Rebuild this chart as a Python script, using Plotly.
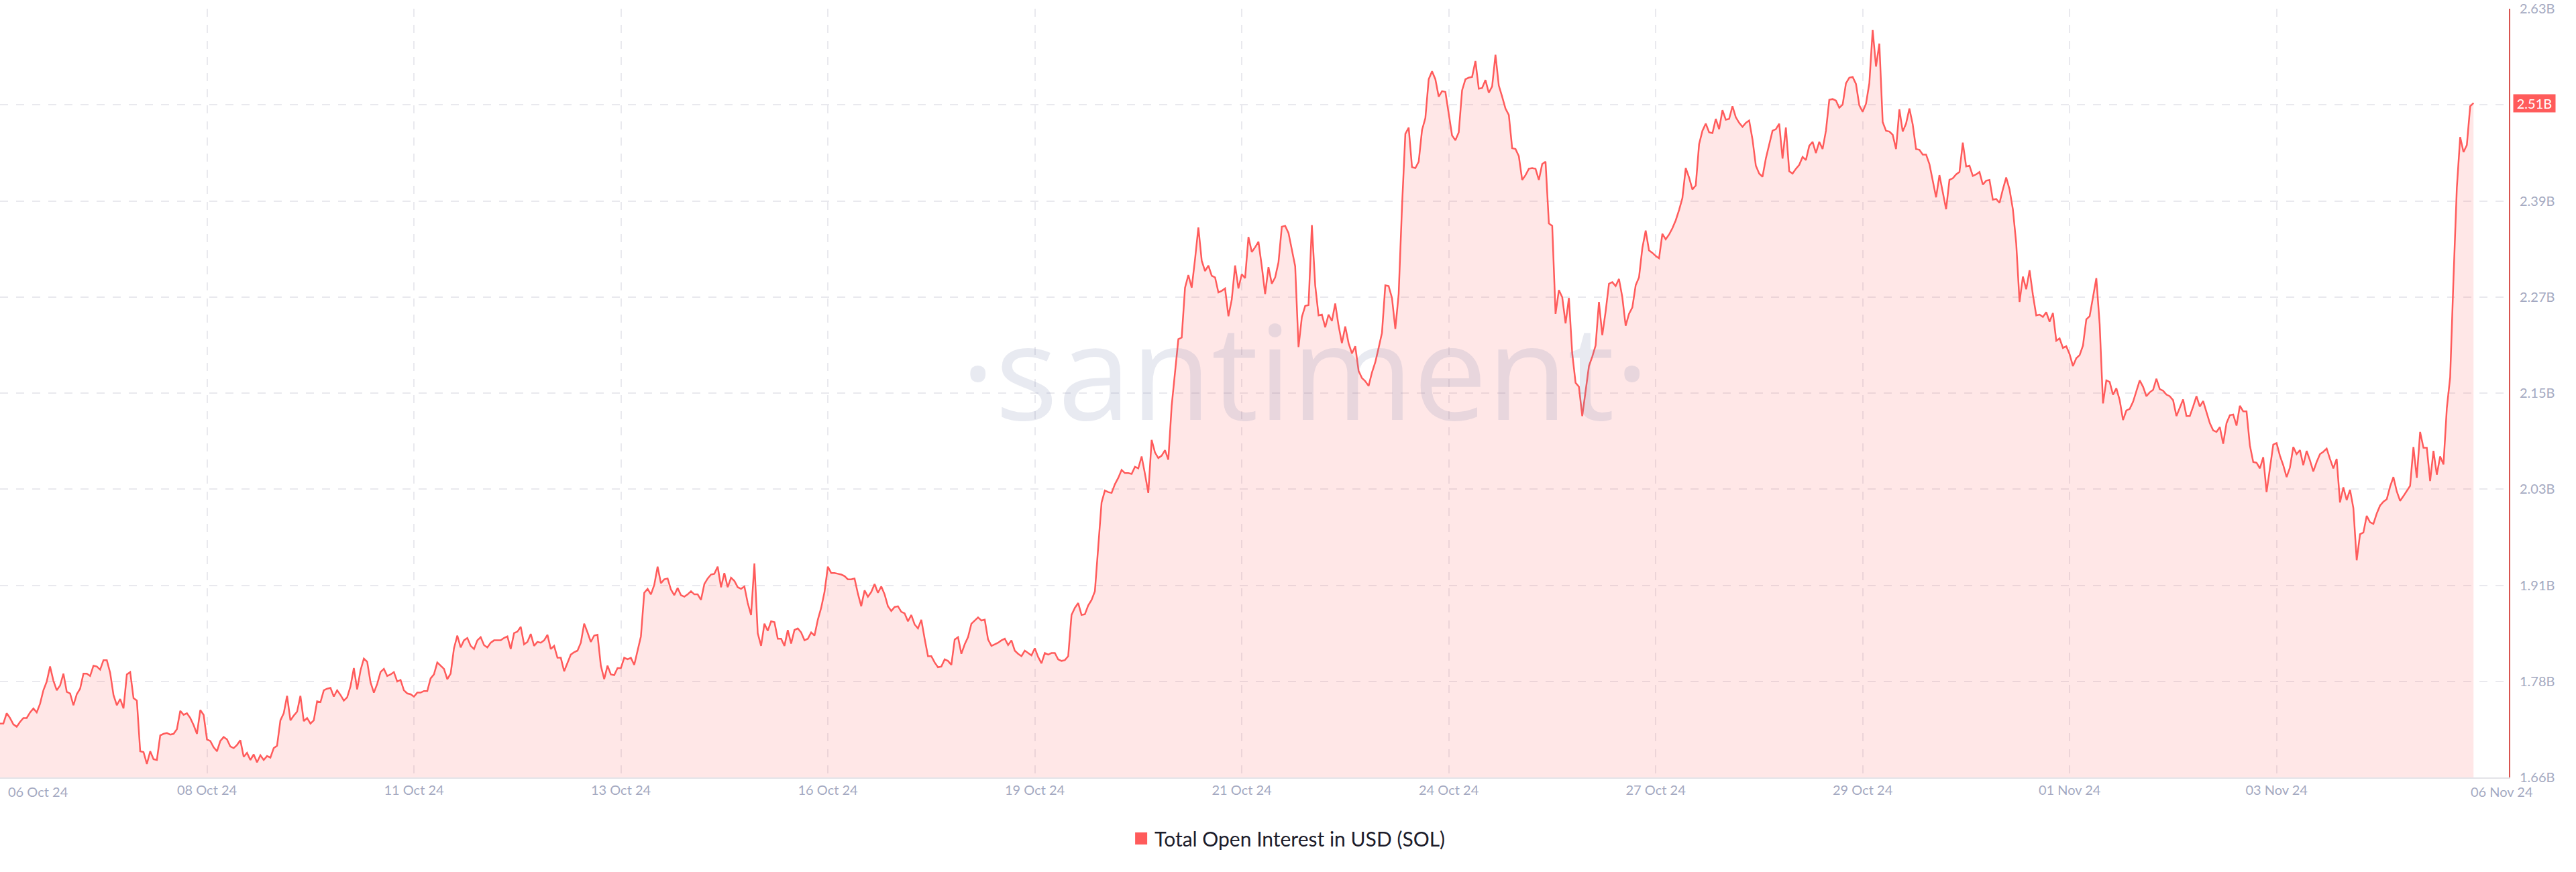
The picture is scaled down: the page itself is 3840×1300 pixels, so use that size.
import pandas as pd
import plotly.graph_objects as go

# ---------------- data (values in billions of USD, hourly) ----------------
start_time = "2024-10-06 02:00"

oi_oct06_oct11 = [
    1.728, 1.728, 1.741, 1.735, 1.727, 1.724, 1.730, 1.735, 1.735, 1.742,
    1.747, 1.742, 1.753, 1.770, 1.781, 1.800, 1.782, 1.770, 1.776, 1.791,
    1.768, 1.766, 1.751, 1.765, 1.772, 1.791, 1.791, 1.788, 1.801, 1.800,
    1.796, 1.808, 1.808, 1.792, 1.764, 1.751, 1.759, 1.747, 1.790, 1.793,
    1.760, 1.757, 1.693, 1.692, 1.677, 1.693, 1.683, 1.682, 1.713, 1.715,
    1.716, 1.714, 1.715, 1.721, 1.744, 1.739, 1.741, 1.735, 1.726, 1.715,
    1.745, 1.739, 1.708, 1.706, 1.698, 1.693, 1.706, 1.711, 1.708, 1.699,
    1.697, 1.701, 1.707, 1.686, 1.691, 1.682, 1.689, 1.679, 1.688, 1.682,
    1.687, 1.685, 1.697, 1.700, 1.732, 1.741, 1.763, 1.732, 1.738, 1.743,
    1.763, 1.731, 1.735, 1.728, 1.732, 1.756, 1.755, 1.770, 1.772, 1.773,
    1.762, 1.770, 1.764, 1.757, 1.761, 1.775, 1.798, 1.771, 1.795, 1.810,
    1.806, 1.780, 1.767, 1.778, 1.793, 1.797, 1.788, 1.790, 1.793, 1.781,
    1.783, 1.770, 1.766, 1.765, 1.762, 1.767, 1.767, 1.769, 1.769, 1.785,
]

oi_oct11_oct16 = [
    1.790, 1.805, 1.801, 1.797, 1.784, 1.791, 1.823, 1.839, 1.824, 1.833,
    1.836, 1.826, 1.822, 1.833, 1.837, 1.827, 1.824, 1.830, 1.833, 1.833,
    1.833, 1.836, 1.838, 1.822, 1.842, 1.844, 1.850, 1.828, 1.831, 1.841,
    1.826, 1.831, 1.830, 1.833, 1.840, 1.822, 1.826, 1.811, 1.811, 1.794,
    1.805, 1.815, 1.818, 1.820, 1.830, 1.854, 1.843, 1.831, 1.839, 1.840,
    1.801, 1.784, 1.801, 1.790, 1.789, 1.798, 1.798, 1.811, 1.809, 1.811,
    1.802, 1.821, 1.838, 1.893, 1.898, 1.891, 1.903, 1.926, 1.905, 1.910,
    1.911, 1.897, 1.890, 1.899, 1.890, 1.888, 1.891, 1.895, 1.891, 1.891,
    1.884, 1.904, 1.911, 1.916, 1.917, 1.926, 1.900, 1.918, 1.900, 1.912,
    1.908, 1.900, 1.898, 1.901, 1.880, 1.865, 1.930, 1.842, 1.826, 1.854,
    1.845, 1.857, 1.856, 1.835, 1.835, 1.826, 1.846, 1.829, 1.846, 1.848,
    1.843, 1.833, 1.835, 1.843, 1.839, 1.859, 1.874, 1.894, 1.926, 1.918,
    1.918, 1.917, 1.916, 1.914,
]

oi_oct16_oct21 = [
    1.910, 1.910, 1.911, 1.892, 1.876, 1.896, 1.888, 1.894, 1.904, 1.893,
    1.901, 1.891, 1.876, 1.870, 1.875, 1.876, 1.869, 1.867, 1.857, 1.865,
    1.853, 1.848, 1.859, 1.835, 1.813, 1.813, 1.805, 1.799, 1.800, 1.809,
    1.807, 1.802, 1.834, 1.837, 1.816, 1.828, 1.837, 1.854, 1.858, 1.862,
    1.858, 1.859, 1.834, 1.826, 1.828, 1.830, 1.833, 1.835, 1.827, 1.833,
    1.820, 1.816, 1.813, 1.820, 1.817, 1.814, 1.823, 1.812, 1.804, 1.817,
    1.815, 1.817, 1.817, 1.809, 1.807, 1.808, 1.813, 1.865, 1.874, 1.880,
    1.865, 1.866, 1.877, 1.884, 1.895, 1.953, 2.007, 2.022, 2.020, 2.019,
    2.030, 2.038, 2.048, 2.044, 2.044, 2.043, 2.052, 2.050, 2.065, 2.043,
    2.019, 2.086, 2.070, 2.063, 2.066, 2.073, 2.061, 2.129, 2.174, 2.213,
    2.215, 2.278, 2.294, 2.278, 2.314, 2.354, 2.312, 2.299, 2.306, 2.293,
    2.291, 2.272, 2.274, 2.277, 2.242, 2.263, 2.306, 2.277, 2.295, 2.290,
    2.342, 2.323, 2.329, 2.336,
]

oi_oct21_oct27 = [
    2.305, 2.270, 2.304, 2.283, 2.291, 2.310, 2.355, 2.356, 2.347, 2.327,
    2.305, 2.203, 2.241, 2.255, 2.256, 2.357, 2.281, 2.243, 2.244, 2.228,
    2.244, 2.236, 2.258, 2.230, 2.208, 2.229, 2.208, 2.195, 2.204, 2.173,
    2.164, 2.160, 2.154, 2.171, 2.184, 2.202, 2.221, 2.281, 2.280, 2.265,
    2.226, 2.270, 2.380, 2.472, 2.480, 2.430, 2.429, 2.437, 2.477, 2.492,
    2.541, 2.551, 2.541, 2.519, 2.526, 2.525, 2.497, 2.470, 2.464, 2.474,
    2.527, 2.541, 2.543, 2.544, 2.564, 2.529, 2.530, 2.540, 2.524, 2.532,
    2.572, 2.533, 2.519, 2.504, 2.496, 2.454, 2.453, 2.444, 2.414, 2.420,
    2.428, 2.429, 2.428, 2.414, 2.434, 2.437, 2.359, 2.356, 2.245, 2.275,
    2.266, 2.233, 2.265, 2.195, 2.158, 2.153, 2.116, 2.149, 2.179, 2.191,
    2.205, 2.260, 2.218, 2.248, 2.283, 2.285, 2.280, 2.289, 2.266, 2.230,
    2.245, 2.253, 2.281, 2.291, 2.328, 2.350, 2.325, 2.322, 2.318, 2.315,
    2.346, 2.339, 2.345, 2.353, 2.363,
]

oi_oct27_nov01 = [
    2.376, 2.391, 2.429, 2.417, 2.402, 2.407, 2.459, 2.476, 2.485, 2.474,
    2.473, 2.491, 2.478, 2.502, 2.490, 2.491, 2.507, 2.493, 2.486, 2.481,
    2.486, 2.489, 2.465, 2.432, 2.422, 2.418, 2.441, 2.459, 2.476, 2.478,
    2.485, 2.441, 2.480, 2.425, 2.422, 2.428, 2.433, 2.443, 2.439, 2.457,
    2.462, 2.448, 2.462, 2.453, 2.476, 2.515, 2.516, 2.514, 2.505, 2.509,
    2.536, 2.543, 2.544, 2.535, 2.508, 2.500, 2.510, 2.536, 2.603, 2.557,
    2.586, 2.487, 2.476, 2.475, 2.471, 2.453, 2.503, 2.475, 2.485, 2.504,
    2.484, 2.453, 2.452, 2.446, 2.446, 2.434, 2.414, 2.392, 2.420, 2.399,
    2.377, 2.414, 2.416, 2.421, 2.424, 2.461, 2.431, 2.432, 2.419, 2.421,
    2.424, 2.408, 2.413, 2.414, 2.389, 2.390, 2.385, 2.402, 2.417, 2.402,
    2.377, 2.334, 2.260, 2.292, 2.276, 2.300, 2.269, 2.243, 2.244, 2.241,
    2.247, 2.235, 2.246, 2.211, 2.214, 2.202, 2.204, 2.194, 2.179, 2.189,
    2.193, 2.205, 2.238, 2.242,
]

oi_nov01_nov06 = [
    2.267, 2.290, 2.232, 2.132, 2.161, 2.159, 2.143, 2.151, 2.136, 2.111,
    2.123, 2.125, 2.134, 2.147, 2.161, 2.153, 2.141, 2.146, 2.149, 2.163,
    2.150, 2.148, 2.143, 2.141, 2.136, 2.116, 2.126, 2.137, 2.116, 2.116,
    2.128, 2.141, 2.128, 2.135, 2.121, 2.107, 2.098, 2.096, 2.102, 2.081,
    2.107, 2.117, 2.118, 2.104, 2.129, 2.122, 2.122, 2.079, 2.058, 2.057,
    2.050, 2.064, 2.020, 2.050, 2.080, 2.082, 2.066, 2.054, 2.039, 2.051,
    2.077, 2.068, 2.073, 2.054, 2.072, 2.060, 2.046, 2.058, 2.068, 2.071,
    2.075, 2.062, 2.050, 2.062, 2.007, 2.026, 2.010, 2.023, 2.000, 1.934,
    1.967, 1.969, 1.990, 1.982, 1.980, 1.993, 2.003, 2.008, 2.011, 2.027,
    2.039, 2.021, 2.009, 2.015, 2.021, 2.028, 2.077, 2.038, 2.096, 2.076,
    2.076, 2.034, 2.072, 2.042, 2.065, 2.055, 2.126, 2.165, 2.290, 2.404,
    2.468, 2.449, 2.458, 2.507, 2.511,
]

x_tick_labels = [
    "06 Oct 24", "08 Oct 24", "11 Oct 24", "13 Oct 24", "16 Oct 24",
    "19 Oct 24", "21 Oct 24", "24 Oct 24", "27 Oct 24", "29 Oct 24",
    "01 Nov 24", "03 Nov 24", "06 Nov 24",
]
y_tick_labels = ["1.66B", "1.78B", "1.91B", "2.03B", "2.15B",
                 "2.27B", "2.39B", "2.51B", "2.63B"]
y_min, y_max = 1.66, 2.63

series_name = "Total Open Interest in USD (SOL)"
watermark = "\u00b7santiment\u00b7"

# ---------------- build ----------------
open_interest = (oi_oct06_oct11 + oi_oct11_oct16 + oi_oct16_oct21 +
                 oi_oct21_oct27 + oi_oct27_nov01 + oi_nov01_nov06)
timestamps = pd.date_range(start_time, periods=len(open_interest), freq="h")

t0 = timestamps[0]
tick_step_h = 62
x_ticks = [t0 + pd.Timedelta(hours=tick_step_h * k) for k in range(len(x_tick_labels))]
x_end = t0 + pd.Timedelta(hours=751.6)
last_label_x = t0 + pd.Timedelta(hours=749.4)

n_y = len(y_tick_labels)
y_tick_values = [y_min + (y_max - y_min) * k / (n_y - 1) for k in range(n_y)]

LINE = "#ff5b5b"
AXIS_RED = "#d9534f"
TICK_COLOR = "#a4a9c1"
GRID = "#e9e9ee"
FONT = "Lato"

fig = go.Figure()
fig.add_trace(go.Scatter(
    x=timestamps, y=open_interest, mode="lines",
    line=dict(color=LINE, width=2.5),
    fill="tozeroy", fillcolor="rgba(255,91,91,0.15)",
    showlegend=False, hoverinfo="skip",
))
fig.add_trace(go.Scatter(
    x=[None], y=[None], mode="markers", name=series_name,
    marker=dict(symbol="square", size=16, color=LINE, line=dict(color=LINE, width=2)),
))

tick_font = dict(family=FONT, size=20, color=TICK_COLOR)

fig.update_layout(
    width=3840, height=1300,
    margin=dict(l=0, r=100, t=13, b=141),
    paper_bgcolor="white", plot_bgcolor="white",
    hovermode=False,
    legend=dict(
        orientation="h", x=0.5134, xanchor="center", y=-0.0794, yanchor="middle",
        font=dict(family=FONT, size=30, color="#1c1c2b"),
        bgcolor="rgba(0,0,0,0)",
    ),
    xaxis=dict(
        type="date", range=[t0, x_end],
        tickmode="array", tickvals=x_ticks[1:-1], ticktext=x_tick_labels[1:-1],
        showgrid=True, gridcolor=GRID, gridwidth=2, griddash="12px,12px",
        showline=True, linecolor="#e3e3e8", linewidth=2,
        ticks="", tickfont=tick_font, zeroline=False,
    ),
    yaxis=dict(
        side="right", range=[y_min, y_max],
        tickmode="array", tickvals=y_tick_values, ticktext=y_tick_labels,
        showgrid=True, gridcolor=GRID, gridwidth=2, griddash="12px,12px",
        showline=True, linecolor=AXIS_RED, linewidth=2,
        ticks="", tickfont=tick_font, zeroline=False, ticklabelstandoff=10,
    ),
    annotations=[
        dict(text=watermark, xref="paper", yref="paper", x=0.52, y=0.531,
             xanchor="center", yanchor="middle", showarrow=False,
             font=dict(family="Open Sans", size=196, color="rgba(120,130,170,0.17)")),
        dict(text=f"{open_interest[-1]:.2f}B", xref="paper", yref="y",
             x=1, y=open_interest[-1], xanchor="left", yanchor="middle", xshift=6,
             showarrow=False, bgcolor=LINE, width=58, height=22, borderpad=2,
             font=dict(family=FONT, size=20, color="white")),
        dict(text=x_tick_labels[0], xref="x", yref="paper", x=t0, y=0,
             xanchor="left", yanchor="middle", xshift=10, yshift=-21,
             showarrow=False, font=tick_font),
        dict(text=x_tick_labels[-1], xref="x", yref="paper", x=last_label_x, y=0,
             xanchor="center", yanchor="middle", yshift=-21,
             showarrow=False, font=tick_font),
    ],
)

fig.write_html(
    "out.html",
    config={"displayModeBar": False},
    post_script="document.body.style.margin='0';document.body.style.overflow='hidden';",
)
